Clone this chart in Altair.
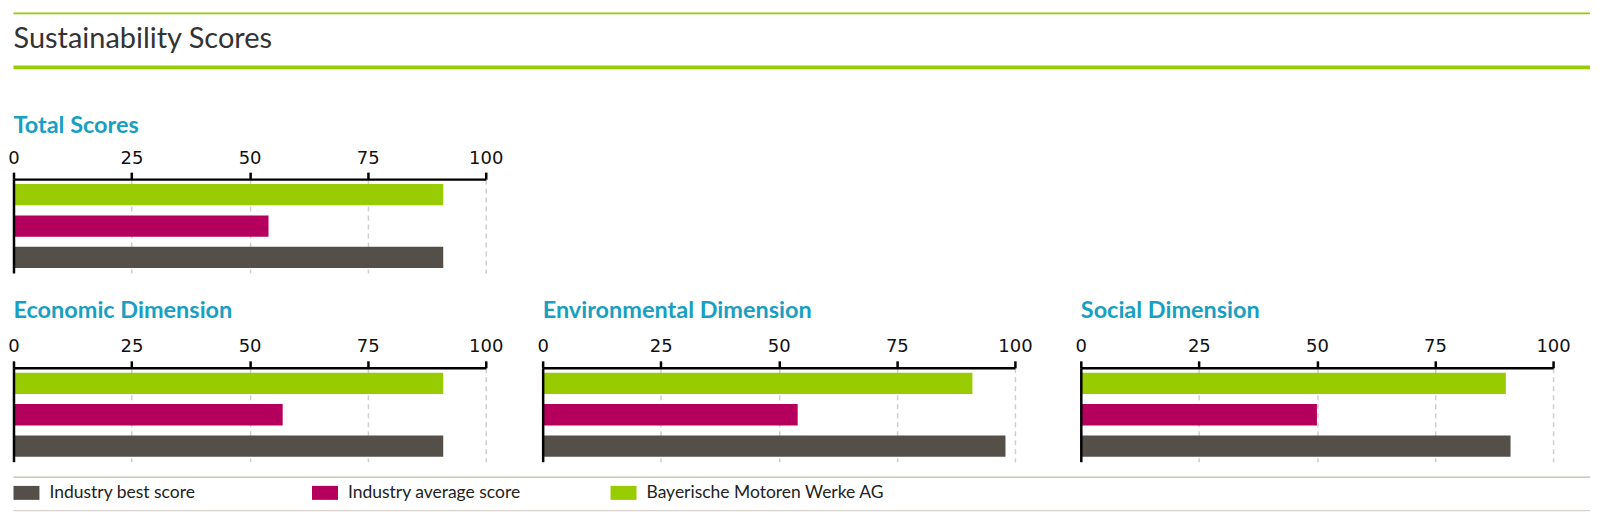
import altair as alt
import pandas as pd

# ---- data ----
dimensions = ["Total Scores", "Economic Dimension", "Environmental Dimension", "Social Dimension"]
series_names = ["Industry best score", "Industry average score", "Bayerische Motoren Werke AG"]
best_scores = [91, 91, 98, 91]
average_scores = [54, 57, 54, 50]
bmw_scores = [91, 91, 91, 90]
tick_values = [0, 25, 50, 75, 100]
page_title = "Sustainability Scores"

series_colors = ["#554f4a", "#b4005c", "#99cc00"]
TEAL = "#18a0c2"
GREEN = "#99cc00"

rows = []
for i, d in enumerate(dimensions):
    for s, v in zip(series_names, [best_scores[i], average_scores[i], bmw_scores[i]]):
        rows.append({"dimension": d, "series": s, "score": v})
df = pd.DataFrame(rows)

y_order = list(reversed(series_names))

legend = alt.Legend(
    title=None, orient="none", legendX=0, legendY=467, direction="horizontal",
    symbolType="M-1,-0.538L1,-0.538L1,0.538L-1,0.538Z", symbolSize=676,
    symbolStrokeWidth=0, symbolOpacity=1,
    labelFont="Lato", labelFontSize=17.5, labelColor="#222222", labelOffset=10,
    columnPadding=24, gridAlign="all", padding=0, labelLimit=500,
)

PW, PH = 473, 94


def panel(dim, title_offset):
    return alt.Chart(df).transform_filter(alt.datum.dimension == dim).mark_bar().encode(
        x=alt.X("score:Q",
                scale=alt.Scale(domain=[0, 100], nice=False, zero=True),
                axis=alt.Axis(orient="top", values=tick_values, title=None,
                              labelFont="DejaVu Sans", labelFontSize=18, labelColor="#111111",
                              labelBaseline="alphabetic", labelPadding=9, labelAngle=0,
                              labelFlush=False, labelOverlap=False,
                              tickSize=7, tickWidth=2.5, tickColor="#000000",
                              domainColor="#000000", domainWidth=2.5,
                              grid=True, gridColor="#cfcfcf", gridDash=[5, 4], gridWidth=1.5)),
        y=alt.Y("series:N", sort=y_order,
                scale=alt.Scale(paddingInner=0.32, paddingOuter=0.156),
                axis=alt.Axis(title=None, labels=False, ticks=False, grid=False,
                              domain=True, domainColor="#000000", domainWidth=2.5, zindex=1)),
        color=alt.Color("series:N",
                        scale=alt.Scale(domain=series_names, range=series_colors),
                        legend=legend),
    ).properties(
        width=PW, height=PH,
        title=alt.TitleParams(dim, anchor="start", frame="group", font="Lato", fontSize=23.5,
                              fontWeight="bold", color=TEAL, baseline="alphabetic",
                              offset=title_offset),
    )


hdr_df = pd.DataFrame({"t": [page_title]})
hdr_base = alt.Chart(hdr_df)
header = alt.layer(
    hdr_base.mark_rule(color=GREEN, strokeWidth=1.7).encode(
        x=alt.value(0), x2=alt.value(1579), y=alt.value(0)),
    hdr_base.mark_rule(color=GREEN, strokeWidth=3.8).encode(
        x=alt.value(0), x2=alt.value(1579), y=alt.value(54)),
    hdr_base.mark_text(font="Lato", fontSize=29, color="#333333", align="left",
                       baseline="alphabetic").encode(
        x=alt.value(0), y=alt.value(35), text="t:N"),
    hdr_base.mark_rule(color="#bfb7af", strokeWidth=1.4).encode(
        x=alt.value(0), x2=alt.value(1579), y=alt.value(464.5)),
    hdr_base.mark_rule(color="#d8d3ce", strokeWidth=1.4).encode(
        x=alt.value(0), x2=alt.value(1579), y=alt.value(498)),
).properties(width=1579, height=71)

total = panel(dimensions[0], -7.5)
econ = panel(dimensions[1], -4)
env = panel(dimensions[2], -4)
social = panel(dimensions[3], -4)

row2 = alt.hconcat(econ, alt.hconcat(env, social, spacing=66, bounds="flush"),
                   spacing=57, bounds="flush")

chart = alt.vconcat(header, total, row2, spacing=95, bounds="flush").properties(
    padding={"left": -0.5, "top": 4, "right": 0, "bottom": 0}
).configure(font="Lato").configure_view(stroke=None)

chart.save("out.html", embed_options={"renderer": "svg", "actions": False})
